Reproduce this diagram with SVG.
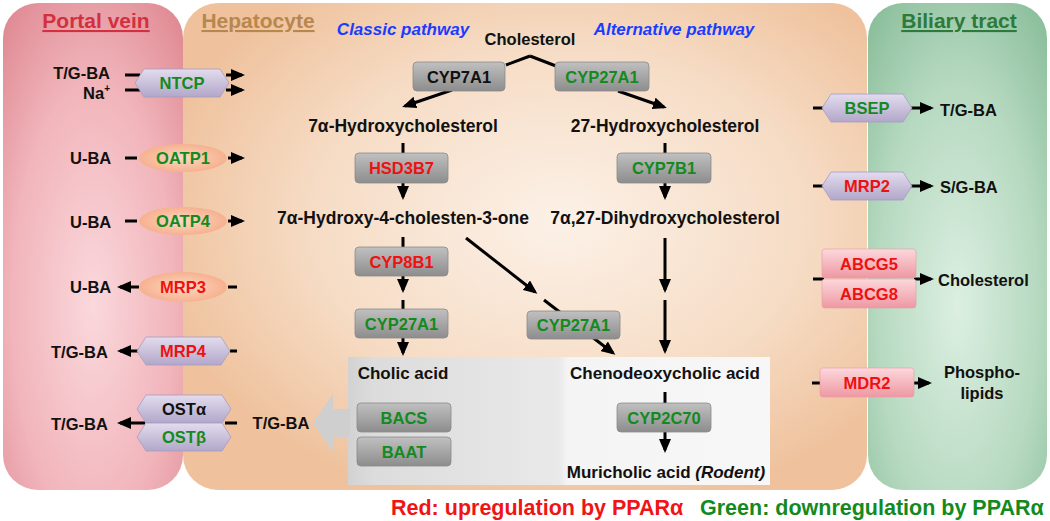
<svg xmlns="http://www.w3.org/2000/svg" width="1050" height="521" viewBox="0 0 1050 521">
<defs>
<radialGradient id="gRed" cx="0.5" cy="0.62" r="0.75">
<stop offset="0" stop-color="#fad8dc"/><stop offset="0.6" stop-color="#f1b5bb"/><stop offset="1" stop-color="#e08b94"/>
</radialGradient>
<radialGradient id="gHep" cx="0.55" cy="0.45" r="0.6">
<stop offset="0" stop-color="#fcf1e7"/><stop offset="0.6" stop-color="#f6dcc5"/><stop offset="1" stop-color="#efc29d"/>
</radialGradient>
<radialGradient id="gGrn" cx="0.5" cy="0.62" r="0.75">
<stop offset="0" stop-color="#dcefe2"/><stop offset="0.6" stop-color="#b6d9c0"/><stop offset="1" stop-color="#8cbf9c"/>
</radialGradient>
<linearGradient id="gBox" x1="0" y1="0" x2="0" y2="1">
<stop offset="0" stop-color="#c0c0c0"/><stop offset="1" stop-color="#8d8d8d"/>
</linearGradient>
<linearGradient id="gHex" x1="0" y1="0" x2="0" y2="1">
<stop offset="0" stop-color="#e3dcee"/><stop offset="1" stop-color="#b2a7c9"/>
</linearGradient>
<radialGradient id="gEll" cx="0.5" cy="0.5" r="0.6">
<stop offset="0" stop-color="#fdd8c2"/><stop offset="1" stop-color="#f5a985"/>
</radialGradient>
<linearGradient id="gPink" x1="0" y1="0" x2="0" y2="1">
<stop offset="0" stop-color="#fcd8dc"/><stop offset="1" stop-color="#ee98a3"/>
</linearGradient>
<linearGradient id="gPanel" x1="0" y1="0" x2="1" y2="0">
<stop offset="0" stop-color="#d2d2d2"/><stop offset="0.06" stop-color="#dcdcdc"/><stop offset="0.5" stop-color="#e9e9e9"/><stop offset="0.52" stop-color="#f4f4f4"/><stop offset="1" stop-color="#f7f7f7"/>
</linearGradient>
<marker id="ah" markerUnits="userSpaceOnUse" viewBox="0 0 14 12" markerWidth="14" markerHeight="12" refX="11" refY="6" orient="auto">
<path d="M0,0 L14,6 L0,12 z" fill="#000"/>
</marker>
</defs>
<style>
text{font-family:"Liberation Sans",Arial,sans-serif;font-weight:bold;}
.t{font-size:17.5px;fill:#111;text-anchor:middle;dominant-baseline:central;}
.s{font-size:16.5px;fill:#111;dominant-baseline:central;}
.e{font-size:16.5px;text-anchor:middle;dominant-baseline:central;}
.r{fill:#ee1111;}
.g{fill:#138a1e;}
.k{fill:#111;}
.box{fill:url(#gBox);stroke:#8a8a8a;stroke-width:0.8;}
.hex{fill:url(#gHex);stroke:#a59cc0;stroke-width:0.8;}
.ell{fill:url(#gEll);}
.pink{fill:url(#gPink);stroke:#e99aa3;stroke-width:0.6;}
.ln{stroke:#000;stroke-width:3;fill:none;}
.ar{stroke:#000;stroke-width:3;fill:none;marker-end:url(#ah);}
.title{font-size:21px;text-anchor:middle;text-decoration:underline;}
.path{font-size:17px;fill:#1a3cff;font-style:italic;text-anchor:middle;}
</style>
<rect width="1050" height="521" fill="#fff"/>
<g id="panels">
<rect x="3" y="3" width="180" height="487" rx="35" fill="url(#gRed)"/>
<rect x="183" y="3" width="684" height="487" rx="35" fill="url(#gHep)"/>
<rect x="868" y="3" width="179" height="487" rx="35" fill="url(#gGrn)"/>
<text class="title" x="96" y="28" fill="#d3303f">Portal vein</text>
<text class="title" x="258" y="28" fill="#b8874e">Hepatocyte</text>
<text class="title" x="959" y="28" fill="#2e7a3b">Biliary tract</text>
<text class="path" x="403" y="35">Classic pathway</text>
<text class="path" x="674" y="35">Alternative pathway</text>
<rect x="348" y="357" width="422" height="128" fill="url(#gPanel)"/>
<path d="M313,423 L333,394 L333,409 L350,409 L350,437 L333,437 L333,452 Z" fill="#cfcfcf"/>
</g>
<g id="connectors">
<path class="ln" d="M506,65 L530,56" stroke-width="4.5"/>
<path class="ln" d="M530,56 L556,66" stroke-width="2.5"/>
<line class="ar" x1="452" y1="90" x2="405" y2="106" stroke-width="4"/>
<line class="ar" x1="618" y1="91" x2="664" y2="107"/>
<line class="ln" x1="403" y1="143" x2="403" y2="153"/>
<line class="ar" x1="403" y1="183" x2="403" y2="197"/>
<line class="ln" x1="665" y1="143" x2="665" y2="153"/>
<line class="ar" x1="665" y1="183" x2="665" y2="197"/>
<line class="ln" x1="403" y1="237" x2="403" y2="247"/>
<line class="ar" x1="403" y1="276" x2="403" y2="290"/>
<line class="ln" x1="403" y1="300" x2="403" y2="309"/>
<line class="ar" x1="403" y1="338" x2="403" y2="353"/>
<line class="ar" x1="466" y1="238" x2="535" y2="292"/>
<line class="ar" x1="544" y1="300" x2="613" y2="353"/>
<line class="ar" x1="665" y1="238" x2="665" y2="290"/>
<line class="ar" x1="665" y1="300" x2="665" y2="351"/>
<line class="ln" x1="665" y1="392" x2="665" y2="403"/>
<line class="ar" x1="665" y1="432" x2="665" y2="450"/>
<line class="ln" x1="125" y1="75" x2="140" y2="75"/>
<line class="ln" x1="125" y1="90" x2="140" y2="90"/>
<line class="ar" x1="226" y1="75" x2="242" y2="75"/>
<line class="ar" x1="226" y1="90" x2="242" y2="90"/>
<line class="ln" x1="125" y1="158" x2="137" y2="158"/>
<line class="ar" x1="228" y1="158" x2="242" y2="158"/>
<line class="ln" x1="125" y1="221" x2="137" y2="221"/>
<line class="ar" x1="228" y1="221" x2="242" y2="221"/>
<line class="ar" x1="139" y1="287" x2="120" y2="287"/>
<line class="ln" x1="228" y1="287" x2="237" y2="287"/>
<line class="ar" x1="139" y1="351" x2="120" y2="351"/>
<line class="ln" x1="230" y1="351" x2="237" y2="351"/>
<line class="ar" x1="145" y1="423" x2="120" y2="423"/>
<line class="ln" x1="225" y1="423" x2="237" y2="423"/>
<line class="ln" x1="813" y1="108" x2="824" y2="108"/>
<line class="ar" x1="910" y1="108" x2="931" y2="108"/>
<line class="ln" x1="813" y1="186" x2="824" y2="186"/>
<line class="ar" x1="910" y1="186" x2="931" y2="186"/>
<line class="ln" x1="813" y1="279" x2="824" y2="279"/>
<line class="ar" x1="914" y1="279" x2="931" y2="279"/>
<line class="ln" x1="812" y1="383" x2="822" y2="383"/>
<line class="ar" x1="912" y1="383" x2="929" y2="383"/>
</g>
<g id="metabolites">
<text class="t" x="530" y="39" style="font-size:16.5px">Cholesterol</text>
<text class="t" x="403" y="126">7α-Hydroxycholesterol</text>
<text class="t" x="665" y="126">27-Hydroxycholesterol</text>
<text class="t" x="403" y="218">7α-Hydroxy-4-cholesten-3-one</text>
<text class="t" x="665" y="218">7α,27-Dihydroxycholesterol</text>
<text class="t" x="403" y="373" style="font-size:17px">Cholic acid</text>
<text class="t" x="665" y="373" style="font-size:17px">Chenodeoxycholic acid</text>
<text class="t" x="666" y="472" style="font-size:17px">Muricholic acid <tspan font-style="italic">(Rodent)</tspan></text>
<text class="t" x="281" y="423" style="font-size:16.5px">T/G-BA</text>
</g>
<g id="enzymes">
<g id="n-cyp7a1"><rect class="box" x="413" y="62" width="92" height="29" rx="4"/><text class="e k" x="459" y="76.5">CYP7A1</text></g>
<g id="n-cyp27a1-top"><rect class="box" x="555" y="62" width="94" height="29" rx="4"/><text class="e g" x="602" y="76.5">CYP27A1</text></g>
<g id="n-hsd3b7"><rect class="box" x="355" y="153" width="93" height="30" rx="4"/><text class="e r" x="401.5" y="168">HSD3B7</text></g>
<g id="n-cyp7b1"><rect class="box" x="617" y="153" width="94" height="30" rx="4"/><text class="e g" x="664" y="168">CYP7B1</text></g>
<g id="n-cyp8b1"><rect class="box" x="355" y="247" width="93" height="29" rx="4"/><text class="e r" x="401.5" y="261.5">CYP8B1</text></g>
<g id="n-cyp27a1-c"><rect class="box" x="355" y="309" width="93" height="29" rx="4"/><text class="e g" x="401.5" y="323.5">CYP27A1</text></g>
<g id="n-cyp27a1-m"><rect class="box" x="527" y="311" width="93" height="28" rx="4"/><text class="e g" x="573.5" y="325">CYP27A1</text></g>
<g id="n-cyp2c70"><rect class="box" x="617" y="403" width="94" height="29" rx="4"/><text class="e g" x="664" y="417.5">CYP2C70</text></g>
<g id="n-bacs"><rect class="box" x="357" y="403" width="94" height="29" rx="4"/><text class="e g" x="404" y="417.5">BACS</text></g>
<g id="n-baat"><rect class="box" x="357" y="437" width="94" height="29" rx="4"/><text class="e g" x="404" y="451.5">BAAT</text></g>
</g>
<g id="transporters-portal">
<g id="n-ntcp"><polygon class="hex" points="135,83 144,69 220,69 229,83 220,97 144,97"/><text class="e g" x="182" y="83">NTCP</text></g>
<text class="s" x="110" y="73" text-anchor="end">T/G-BA</text>
<text class="s" x="110" y="93" text-anchor="end">Na<tspan font-size="10px" dy="-5">+</tspan></text>
<g id="n-oatp1"><ellipse class="ell" cx="183" cy="158" rx="44" ry="14"/><text class="e g" x="183" y="158">OATP1</text></g>
<text class="s" x="70" y="158">U-BA</text>
<g id="n-oatp4"><ellipse class="ell" cx="183" cy="221" rx="44" ry="14"/><text class="e g" x="183" y="221">OATP4</text></g>
<text class="s" x="70" y="222">U-BA</text>
<g id="n-mrp3"><ellipse class="ell" cx="183" cy="287" rx="44" ry="15"/><text class="e r" x="183" y="287">MRP3</text></g>
<text class="s" x="70" y="287">U-BA</text>
<g id="n-mrp4"><polygon class="hex" points="137,351 146,337 221,337 230,351 221,365 146,365"/><text class="e r" x="183" y="351">MRP4</text></g>
<text class="s" x="51" y="352">T/G-BA</text>
<g id="n-osta"><polygon class="hex" points="137,409 146,395 222,395 231,409 222,423 146,423"/><text class="e k" x="184" y="409">OSTα</text></g>
<g id="n-ostb"><polygon class="hex" points="137,437 146,423 222,423 231,437 222,451 146,451"/><text class="e g" x="184" y="437">OSTβ</text></g>
<text class="s" x="51" y="424">T/G-BA</text>
</g>
<g id="transporters-biliary">
<g id="n-bsep"><polygon class="hex" points="822,108 831,94 903,94 912,108 903,122 831,122"/><text class="e g" x="867" y="108">BSEP</text></g>
<text class="s" x="940" y="110">T/G-BA</text>
<g id="n-mrp2"><polygon class="hex" points="822,186 831,172 903,172 912,186 903,200 831,200"/><text class="e r" x="867" y="186">MRP2</text></g>
<text class="s" x="940" y="187">S/G-BA</text>
<g id="n-abcg5"><rect class="pink" x="822" y="249" width="94" height="29" rx="3"/><text class="e r" x="869" y="263.5">ABCG5</text></g>
<g id="n-abcg8"><rect class="pink" x="822" y="279" width="94" height="29" rx="3"/><text class="e r" x="869" y="293.5">ABCG8</text></g>
<text class="s" x="938" y="280">Cholesterol</text>
<g id="n-mdr2"><rect class="pink" x="820" y="368" width="94" height="29" rx="3"/><text class="e r" x="867" y="382.5">MDR2</text></g>
<text class="t" x="982" y="372" style="font-size:16.5px">Phospho-</text>
<text class="t" x="982" y="393" style="font-size:16.5px">lipids</text>
</g>
<g id="legend">
<text x="391" y="515" style="font-size:21.5px" fill="#f01414">Red: upregulation by PPARα</text>
<text x="700" y="515" style="font-size:21.5px" fill="#138a1e">Green: downregulation by PPARα</text>
</g>
</svg>
